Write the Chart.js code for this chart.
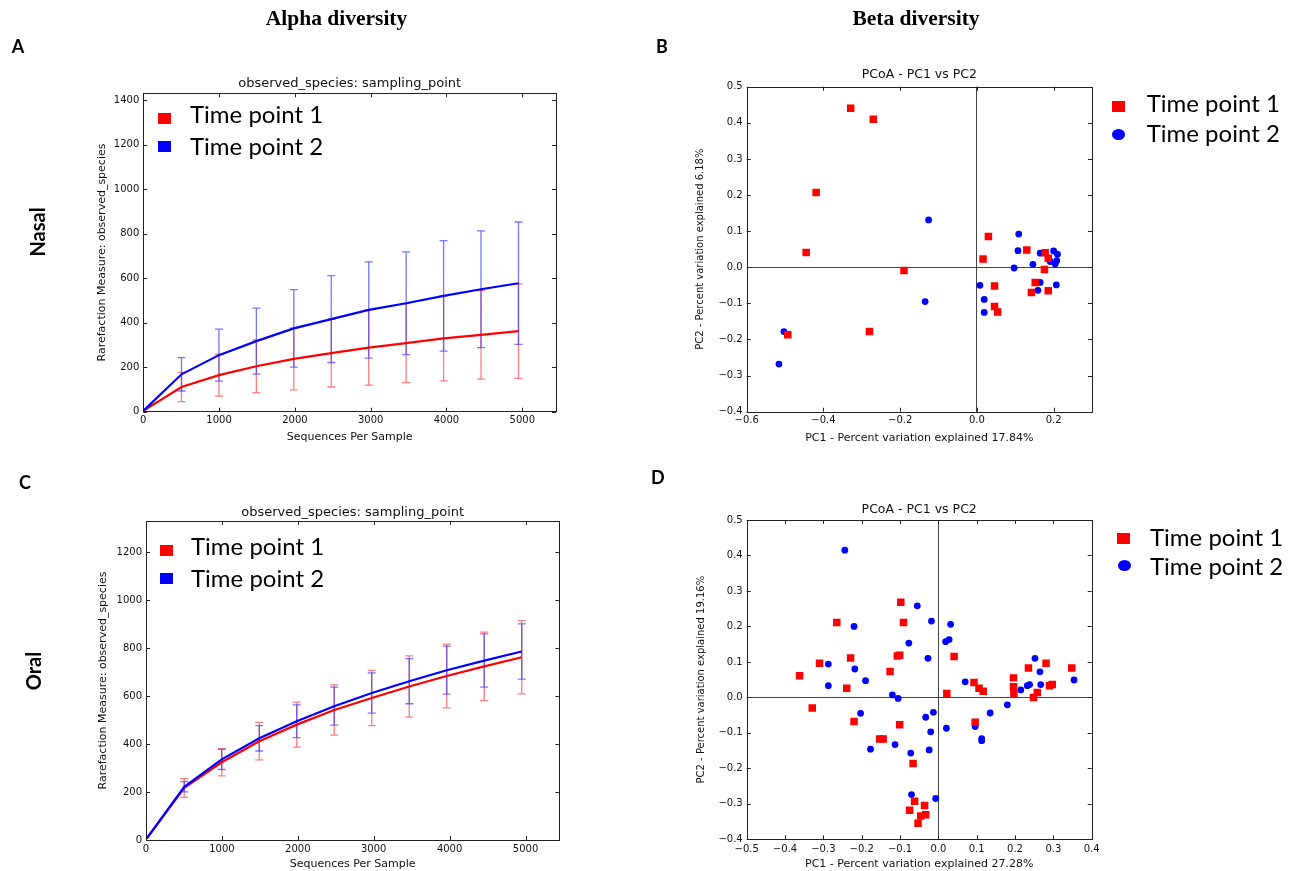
<!DOCTYPE html>
<html><head><meta charset="utf-8">
<script src="https://cdn.jsdelivr.net/npm/chart.js@4.4.1/dist/chart.umd.min.js"></script>
<style>
html,body{margin:0;padding:0;background:#fff;width:1302px;height:871px;overflow:hidden;position:relative;}
canvas{position:absolute;left:0;top:0;}
.t{position:absolute;white-space:nowrap;color:#000;}
.head{font-family:'Liberation Serif';font-weight:bold;font-size:21.5px;line-height:21.5px;transform:translateX(-50%);}
.let{font-family:Lato;font-weight:bold;font-size:18px;line-height:18px;}
.leg{font-family:Lato;font-size:24px;line-height:24px;}
.mk{position:absolute;width:13px;height:11px;}
.rot{font-family:Lato;font-weight:bold;font-size:20px;line-height:20px;transform:translate(-50%,-50%) rotate(-90deg);}
</style></head><body>
<canvas id="cA" width="1302" height="871"></canvas>
<canvas id="cB" width="1302" height="871"></canvas>
<canvas id="cC" width="1302" height="871"></canvas>
<canvas id="cD" width="1302" height="871"></canvas>

<div class="t head" style="left:336.5px;top:8px">Alpha diversity</div>
<div class="t head" style="left:916px;top:8px">Beta diversity</div>
<div class="t let" style="left:11.7px;top:36.7px">A</div>
<div class="t let" style="left:656px;top:36.7px">B</div>
<div class="t let" style="left:19px;top:473.3px">C</div>
<div class="t let" style="left:651px;top:468px">D</div>
<div class="t rot" style="left:36.7px;top:231.7px">Nasal</div>
<div class="t rot" style="left:32.7px;top:671px">Oral</div>

<div class="mk" style="left:157.5px;top:112.8px;background:#f00"></div>
<div class="mk" style="left:157.5px;top:140.5px;background:#00f"></div>
<div class="t leg" style="left:190px;top:102px" id="lA1"></div>
<div class="t leg" style="left:190px;top:133.7px" id="lA2"></div>

<div class="mk" style="left:159.5px;top:545.2px;background:#f00"></div>
<div class="mk" style="left:159.5px;top:572.8px;background:#00f"></div>
<div class="t leg" style="left:191px;top:533.7px" id="lC1"></div>
<div class="t leg" style="left:191px;top:566px" id="lC2"></div>

<div class="mk" style="left:1111.5px;top:100.5px;background:#f00"></div>
<div class="mk" style="left:1111.5px;top:129.2px;background:#00f;border-radius:50%"></div>
<div class="t leg" style="left:1146.7px;top:91px" id="lB1"></div>
<div class="t leg" style="left:1146.7px;top:121.4px" id="lB2"></div>

<div class="mk" style="left:1117.2px;top:533.2px;background:#f00"></div>
<div class="mk" style="left:1117.5px;top:560.3px;background:#00f;border-radius:50%"></div>
<div class="t leg" style="left:1150px;top:524.7px" id="lD1"></div>
<div class="t leg" style="left:1150px;top:553.7px" id="lD2"></div>

<script>
// ---------- DATA ----------
const seriesNames = ['Time point 1', 'Time point 2'];
const rareTitle = 'observed_species: sampling_point';
const rareXTitle = 'Sequences Per Sample';
const rareYTitle = 'Rarefaction Measure: observed_species';
const seqDepth = [10, 504, 998, 1492, 1986, 2480, 2974, 3468, 3962, 4456, 4950];

const nasalTp1Mean = [6, 111, 164, 204, 237, 263, 288, 308, 329, 345, 362];
const nasalTp1Sd   = [2, 66, 94, 118, 139, 152, 169, 177, 191, 199, 212];
const nasalTp2Mean = [7, 168, 254, 317, 374, 416, 457, 487, 520, 550, 577];
const nasalTp2Sd   = [3, 75, 117, 148, 174, 195, 216, 231, 248, 262, 275];

const oralTp1Mean = [6, 217, 324, 412, 481, 542, 592, 640, 684, 724, 762];
const oralTp1Sd   = [2, 39, 57, 78, 94, 105, 115, 128, 133, 143, 153];
const oralTp2Mean = [7, 222, 336, 424, 495, 558, 613, 662, 708, 748, 786];
const oralTp2Sd   = [2, 21, 42, 53, 68, 79, 84, 94, 100, 111, 115];

const rareXTicks = [0, 1000, 2000, 3000, 4000, 5000];
const rareXMax = 5445;
const nasalYTicks = [0, 200, 400, 600, 800, 1000, 1200, 1400];
const nasalYMax = 1430;
const oralYTicks = [0, 200, 400, 600, 800, 1000, 1200];
const oralYMax = 1330;

const pcoaTitle = 'PCoA - PC1 vs PC2';
const nasalPcoaXTitle = 'PC1 - Percent variation explained 17.84%';
const nasalPcoaYTitle = 'PC2 - Percent variation explained 6.18%';
const oralPcoaXTitle = 'PC1 - Percent variation explained 27.28%';
const oralPcoaYTitle = 'PC2 - Percent variation explained 19.16%';

const nasalTp1PC1 = [-0.329, -0.270, -0.419, -0.445, -0.190, -0.280, -0.493, 0.030, 0.016, 0.046, 0.046, 0.054, 0.130, 0.178, 0.186, 0.176, 0.152, 0.142, 0.186];
const nasalTp1PC2 = [0.440, 0.410, 0.207, 0.041, -0.009, -0.178, -0.187, 0.085, 0.023, -0.052, -0.109, -0.124, 0.048, 0.040, 0.025, -0.006, -0.042, -0.070, -0.065];
const nasalTp2PC1 = [-0.126, -0.135, -0.503, -0.516, 0.008, 0.019, 0.019, 0.097, 0.109, 0.107, 0.146, 0.165, 0.200, 0.210, 0.191, 0.204, 0.208, 0.165, 0.159, 0.207];
const nasalTp2PC2 = [0.131, -0.095, -0.178, -0.268, -0.050, -0.089, -0.125, -0.002, 0.092, 0.046, 0.008, 0.039, 0.045, 0.036, 0.016, 0.009, 0.018, -0.042, -0.064, -0.049];

const oralTp1PC1 = [-0.362, -0.329, -0.310, -0.265, -0.239, -0.229, -0.220, -0.153, -0.144, -0.126, -0.107, -0.101, -0.098, -0.091, -0.101, -0.066, -0.062, -0.075, -0.053, -0.046, -0.036, -0.033, 0.022, 0.041, 0.093, 0.106, 0.117, 0.096, 0.196, 0.196, 0.197, 0.235, 0.248, 0.258, 0.281, 0.290, 0.297, 0.348];
const oralTp1PC2 = [0.061, -0.030, 0.096, 0.211, 0.026, 0.111, -0.068, -0.117, -0.117, 0.073, 0.117, 0.119, 0.268, 0.211, -0.077, -0.186, -0.293, -0.318, -0.355, -0.334, -0.305, -0.331, 0.011, 0.115, 0.042, 0.026, 0.017, -0.070, 0.055, 0.030, 0.012, 0.083, 0.000, 0.014, 0.096, 0.033, 0.036, 0.083];
const oralTp2PC1 = [-0.244, -0.287, -0.287, -0.220, -0.218, -0.190, -0.203, -0.177, -0.120, -0.105, -0.113, -0.077, -0.072, -0.055, -0.070, -0.027, -0.033, -0.020, -0.024, -0.018, -0.013, -0.007, 0.019, 0.028, 0.032, 0.021, 0.070, 0.096, 0.113, 0.113, 0.135, 0.180, 0.215, 0.232, 0.238, 0.252, 0.265, 0.267, 0.354];
const oralTp2PC2 = [0.415, 0.094, 0.033, 0.200, 0.080, 0.047, -0.045, -0.146, 0.007, -0.003, -0.133, 0.153, -0.157, 0.258, -0.274, 0.110, -0.056, -0.097, -0.148, 0.215, -0.042, -0.285, 0.157, 0.163, 0.206, -0.087, 0.044, -0.082, -0.116, -0.122, -0.044, -0.021, 0.021, 0.033, 0.036, 0.110, 0.072, 0.036, 0.049];

const pcoaYTicks = [-0.4, -0.3, -0.2, -0.1, 0.0, 0.1, 0.2, 0.3, 0.4, 0.5];
const pcoaYLabels = ['\u22120.4', '\u22120.3', '\u22120.2', '\u22120.1', '0.0', '0.1', '0.2', '0.3', '0.4', '0.5'];
const nasalPcoaXTicks = [-0.6, -0.4, -0.2, 0.0, 0.2];
const nasalPcoaXLabels = ['\u22120.6', '\u22120.4', '\u22120.2', '0.0', '0.2'];
const nasalPcoaXRange = [-0.6, 0.3];
const oralPcoaXTicks = [-0.5, -0.4, -0.3, -0.2, -0.1, 0.0, 0.1, 0.2, 0.3, 0.4];
const oralPcoaXLabels = ['\u22120.5', '\u22120.4', '\u22120.3', '\u22120.2', '\u22120.1', '0.0', '0.1', '0.2', '0.3', '0.4'];
const oralPcoaXRange = [-0.5, 0.4];
const pcoaYRange = [-0.4, 0.5];

// ---------- legends (text) ----------
['lA1','lC1','lB1','lD1'].forEach(id => document.getElementById(id).textContent = seriesNames[0]);
['lA2','lC2','lB2','lD2'].forEach(id => document.getElementById(id).textContent = seriesNames[1]);

// ---------- styling ----------
Chart.defaults.font.family = "'DejaVu Sans', sans-serif";
Chart.defaults.color = '#111';
const RED = '#ff0000', BLUE = '#0000ff';

const mplPlugin = {
  id: 'mpl',
  beforeDatasetsDraw(chart) {
    const {ctx, scales: {x, y}} = chart;
    ctx.save();
    chart.data.datasets.forEach(ds => {
      if (!ds.errors) return;
      ctx.strokeStyle = ds.errorColor;
      ctx.lineWidth = 1.3;
      ctx.beginPath();
      ds.data.forEach((p, j) => {
        const e = ds.errors[j];
        if (!e || p.x < 100) return;
        const px = x.getPixelForValue(p.x);
        const y1 = y.getPixelForValue(p.y - e), y2 = y.getPixelForValue(p.y + e);
        ctx.moveTo(px, y1); ctx.lineTo(px, y2);
        ctx.moveTo(px - 4, y1); ctx.lineTo(px + 4, y1);
        ctx.moveTo(px - 4, y2); ctx.lineTo(px + 4, y2);
      });
      ctx.stroke();
    });
    ctx.restore();
  },
  afterDraw(chart) {
    const {ctx, chartArea: a, scales: {x, y}} = chart;
    ctx.save();
    ctx.strokeStyle = '#222';
    ctx.lineWidth = 1;
    const tl = 4;
    ctx.beginPath();
    x.ticks.forEach(t => {
      const px = Math.round(x.getPixelForValue(t.value)) + 0.5;
      ctx.moveTo(px, a.bottom); ctx.lineTo(px, a.bottom - tl);
      ctx.moveTo(px, a.top); ctx.lineTo(px, a.top + tl);
    });
    y.ticks.forEach(t => {
      const py = Math.round(y.getPixelForValue(t.value)) + 0.5;
      ctx.moveTo(a.left, py); ctx.lineTo(a.left + tl, py);
      ctx.moveTo(a.right, py); ctx.lineTo(a.right - tl, py);
    });
    ctx.stroke();
    ctx.strokeRect(Math.round(a.left) + 0.5, Math.round(a.top) + 0.5, Math.round(a.right - a.left), Math.round(a.bottom - a.top));
    ctx.restore();
  }
};

function axis(cfg) {
  return {
    type: 'linear', min: cfg.min, max: cfg.max,
    afterBuildTicks: s => { s.ticks = cfg.ticks.map(v => ({value: v})); },
    afterFit: s => { if (cfg.width !== undefined) s.width = cfg.width; if (cfg.height !== undefined) s.height = cfg.height; },
    ticks: {
      autoSkip: false, maxRotation: 0, minRotation: 0, padding: cfg.tickPad,
      font: {size: 10}, color: '#111',
      callback: (v, i) => cfg.labels[i]
    },
    grid: cfg.zeroLine ? {
      drawTicks: false, lineWidth: 1,
      color: c => (c.tick && Math.abs(c.tick.value) < 1e-9) ? '#444' : 'rgba(0,0,0,0)'
    } : {display: false, drawTicks: false},
    border: {display: false},
    title: {display: true, text: cfg.title, padding: 0, font: {size: cfg.titleSize}, color: '#111'}
  };
}

function baseOptions(g, title, titleSize, xAxis, yAxis) {
  return {
    responsive: false, animation: false, events: [],
    layout: {padding: {left: g.padLeft, top: g.padTop, right: g.padRight, bottom: g.padBottom}},
    plugins: {
      legend: {display: false}, tooltip: {enabled: false},
      title: {display: true, text: title, fullSize: false, font: {size: titleSize, weight: 'normal'}, color: '#111', padding: {top: 0, bottom: g.titleGap}}
    },
    scales: {x: xAxis, y: yAxis}
  };
}

function rareChart(id, g, m1, s1, m2, s2, yTicks, yMax) {
  const pts = m => seqDepth.map((x, i) => ({x, y: m[i]}));
  return new Chart(document.getElementById(id), {
    type: 'line',
    data: {datasets: [
      {label: seriesNames[0], data: pts(m1), errors: s1, errorColor: 'rgba(255,40,40,0.6)', borderColor: RED, borderWidth: 2.2, pointRadius: 0, tension: 0, fill: false, order: 1},
      {label: seriesNames[1], data: pts(m2), errors: s2, errorColor: 'rgba(60,60,255,0.7)', borderColor: BLUE, borderWidth: 2.2, pointRadius: 0, tension: 0, fill: false, order: 0}
    ]},
    options: baseOptions(g, rareTitle, 13,
      axis({min: 0, max: rareXMax, ticks: rareXTicks, labels: rareXTicks.map(String), title: rareXTitle, titleSize: 11, height: g.xHeight, tickPad: g.xPad}),
      axis({min: 0, max: yMax, ticks: yTicks, labels: yTicks.map(String), title: rareYTitle, titleSize: 11, width: g.yWidth, tickPad: 4})),
    plugins: [mplPlugin]
  });
}

function pcoaChart(id, g, x1, y1, x2, y2, xTicks, xLabels, xRange, xTitle, yTitle) {
  const pts = (xs, ys) => xs.map((x, i) => ({x, y: ys[i]}));
  return new Chart(document.getElementById(id), {
    type: 'scatter',
    data: {datasets: [
      {label: seriesNames[0], data: pts(x1, y1), pointStyle: 'rect', pointRadius: 5.3, backgroundColor: RED, borderWidth: 0, order: 0},
      {label: seriesNames[1], data: pts(x2, y2), pointStyle: 'circle', pointRadius: 3.4, backgroundColor: BLUE, borderWidth: 0, order: 1}
    ]},
    options: baseOptions(g, pcoaTitle, 12.5,
      axis({min: xRange[0], max: xRange[1], ticks: xTicks, labels: xLabels, title: xTitle, titleSize: 11, height: g.xHeight, tickPad: g.xPad, zeroLine: true}),
      axis({min: pcoaYRange[0], max: pcoaYRange[1], ticks: pcoaYTicks, labels: pcoaYLabels, title: yTitle, titleSize: 10, width: g.yWidth, tickPad: 4, zeroLine: true})),
    plugins: [mplPlugin]
  });
}

rareChart('cA', {padLeft: 95.1, padTop: 76.2, padRight: 746, padBottom: 427.7, yWidth: 48.2, xHeight: 31.6, titleGap: 1.5, xPad: 3},
  nasalTp1Mean, nasalTp1Sd, nasalTp2Mean, nasalTp2Sd, nasalYTicks, nasalYMax);
rareChart('cC', {padLeft: 96.7, padTop: 504.9, padRight: 742.7, padBottom: 0.4, yWidth: 49.3, xHeight: 30.6, titleGap: 0.5, xPad: 3},
  oralTp1Mean, oralTp1Sd, oralTp2Mean, oralTp2Sd, oralYTicks, oralYMax);
pcoaChart('cB', {padLeft: 694, padTop: 67.5, padRight: 210, padBottom: 426.7, yWidth: 52.7, xHeight: 32.6, titleGap: 4.2, xPad: 3},
  nasalTp1PC1, nasalTp1PC2, nasalTp2PC1, nasalTp2PC2, nasalPcoaXTicks, nasalPcoaXLabels, nasalPcoaXRange, nasalPcoaXTitle, nasalPcoaYTitle);
pcoaChart('cD', {padLeft: 695.7, padTop: 501.8, padRight: 210.3, padBottom: 0, yWidth: 51, xHeight: 31.7, titleGap: 3.2, xPad: 4},
  oralTp1PC1, oralTp1PC2, oralTp2PC1, oralTp2PC2, oralPcoaXTicks, oralPcoaXLabels, oralPcoaXRange, oralPcoaXTitle, oralPcoaYTitle);
</script>
</body></html>
